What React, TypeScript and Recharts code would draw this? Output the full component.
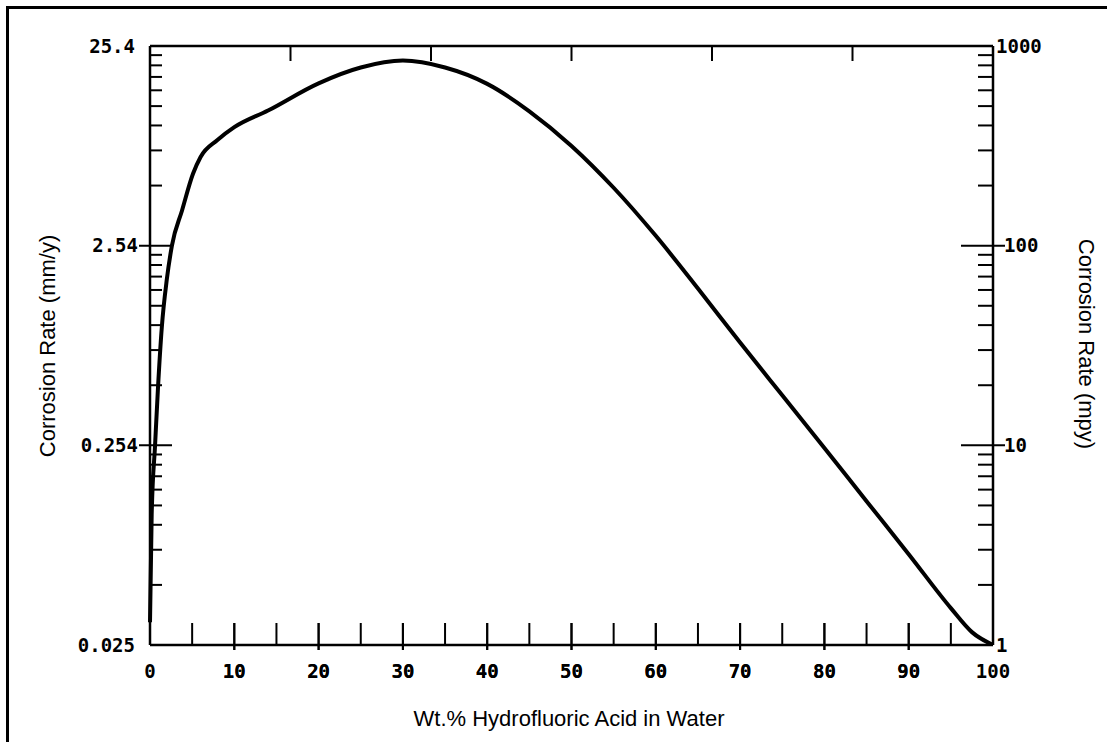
import { LineChart, Line, XAxis, YAxis } from 'recharts';

// Wt.% HF in water vs corrosion rate (mpy)
const wtPct = [0, 0.2, 0.6, 0.95, 1.4, 2.0, 2.6, 3.8, 5.1, 6.0, 8.0, 10, 14, 20, 25, 30, 35, 40, 45, 50, 55, 60, 65, 70, 75, 80, 85, 90, 95, 97.5, 100];
const mpy = [1.3, 4.5, 10, 19.5, 39, 68, 100, 150, 229, 278, 338, 392, 475, 650, 780, 845, 780, 646, 471, 316, 195, 112, 61, 32.7, 17.8, 9.7, 5.25, 2.85, 1.53, 1.16, 1.0];

const xLabels = [0, 10, 20, 30, 40, 50, 60, 70, 80, 90, 100];
const xMinorTicks = [5, 10, 15, 20, 25, 30, 35, 40, 45, 50, 55, 60, 65, 70, 75, 80, 85, 90, 95];
const mpyDecades = [1, 10, 100, 1000];
const mmLabels = ['0.025', '0.254', '2.54', '25.4'];
const mpyLabels = ['1', '10', '100', '1000'];
const minorSteps = [2, 3, 4, 5, 6, 7, 8, 9];

const data = wtPct.map((w, i) => ({ wt: w, rate: mpy[i] }));
const logTicks = [
  ...mpyDecades,
  ...mpyDecades.slice(0, -1).flatMap((d) => minorSteps.map((m) => d * m)),
];

const ink = '#000';
const tickFont = {
  fontFamily: '"DejaVu Sans Mono", monospace',
  fontWeight: 700,
  fontSize: 19,
  fill: ink,
};
const titleFont: React.CSSProperties = {
  position: 'absolute',
  fontFamily: '"Liberation Sans", Arial, sans-serif',
  fontSize: 22,
  color: ink,
  whiteSpace: 'nowrap',
};

const LeftTick = ({ x, y, payload }: any) => {
  const i = mpyDecades.indexOf(payload.value);
  if (i < 0) return <line x1={x} x2={x + 12} y1={y} y2={y} stroke={ink} strokeWidth={2} />;
  const inner = i > 0 && i < mpyDecades.length - 1;
  return (
    <g>
      {inner && <line x1={x - 11} x2={x + 22} y1={y} y2={y} stroke={ink} strokeWidth={2} />}
      <text x={x - (inner ? 12 : 15)} y={y} dy="0.35em" textAnchor="end" {...tickFont}>
        {mmLabels[i]}
      </text>
    </g>
  );
};

const RightTick = ({ x, y, payload }: any) => {
  const i = mpyDecades.indexOf(payload.value);
  if (i < 0) return <line x1={x - 15} x2={x} y1={y} y2={y} stroke={ink} strokeWidth={2} />;
  const inner = i > 0 && i < mpyDecades.length - 1;
  return (
    <g>
      {inner && <line x1={x - 32} x2={x + 12} y1={y} y2={y} stroke={ink} strokeWidth={2} />}
      <text x={x + (inner ? 11 : 3)} y={y} dy="0.35em" textAnchor="start" {...tickFont}>
        {mpyLabels[i]}
      </text>
    </g>
  );
};

const BottomTick = ({ x, y, payload }: any) => {
  const v = payload.value;
  const major = v % 10 === 0;
  return (
    <g>
      {v > 0 && v < 100 && (
        <line x1={x} x2={x} y1={y - 22} y2={y + (major ? 5 : 0)} stroke={ink} strokeWidth={2} />
      )}
      {major && (
        <text x={x} y={y + 26} dy="0.35em" textAnchor="middle" {...tickFont}>
          {v}
        </text>
      )}
    </g>
  );
};

const TopTick = ({ x, y, payload }: any) => {
  const v = payload.value;
  if (v <= 0 || v >= 100) return <g />;
  return <line x1={x} x2={x} y1={y} y2={y + 15} stroke={ink} strokeWidth={2} />;
};

const axisLine = { stroke: ink, strokeWidth: 2.5 };

export default function App() {
  return (
    <div style={{ position: 'fixed', left: 0, top: 0, width: 1107, height: 742, background: '#fff' }}>
      <div
        style={{
          position: 'absolute',
          left: 6,
          top: 6,
          right: 0,
          bottom: 0,
          borderLeft: '3px solid #000',
          borderTop: '3px solid #000',
        }}
      />
      <div style={{ position: 'absolute', left: 0, top: 0 }}>
        <LineChart width={1107} height={742} data={data} margin={{ top: 26, right: 54, bottom: 67, left: 90 }}>
          <XAxis
            xAxisId="bottom"
            dataKey="wt"
            type="number"
            domain={[0, 100]}
            ticks={[...xMinorTicks, ...xLabels]}
            interval={0}
            height={30}
            tickSize={0}
            tickMargin={0}
            tickLine={false}
            axisLine={axisLine}
            tick={<BottomTick />}
          />
          <XAxis
            xAxisId="top"
            orientation="top"
            type="number"
            domain={[0, 100]}
            allowDataOverflow
            ticks={xMinorTicks}
            interval={0}
            height={20}
            tickSize={0}
            tickMargin={0}
            tickLine={false}
            axisLine={axisLine}
            tick={<TopTick />}
          />
          <YAxis
            yAxisId="left"
            orientation="left"
            type="number"
            scale="log"
            domain={[1, 1000]}
            allowDataOverflow
            ticks={logTicks}
            interval={0}
            width={60}
            tickSize={0}
            tickMargin={0}
            tickLine={false}
            axisLine={axisLine}
            tick={<LeftTick />}
          />
          <YAxis
            yAxisId="right"
            orientation="right"
            type="number"
            scale="log"
            domain={[1, 1000]}
            allowDataOverflow
            ticks={logTicks}
            interval={0}
            width={60}
            tickSize={0}
            tickMargin={0}
            tickLine={false}
            axisLine={axisLine}
            tick={<RightTick />}
          />
          <Line
            xAxisId="bottom"
            yAxisId="right"
            dataKey="rate"
            type="monotone"
            stroke={ink}
            strokeWidth={4}
            dot={false}
            isAnimationActive={false}
          />
        </LineChart>
      </div>
      <div style={{ ...titleFont, left: 48, top: 346, transform: 'translate(-50%, -50%) rotate(-90deg)' }}>
        Corrosion Rate (mm/y)
      </div>
      <div style={{ ...titleFont, left: 1086, top: 344, transform: 'translate(-50%, -50%) rotate(90deg)' }}>
        Corrosion Rate (mpy)
      </div>
      <div style={{ ...titleFont, left: 569, top: 719, transform: 'translate(-50%, -50%)' }}>
        Wt.% Hydrofluoric Acid in Water
      </div>
    </div>
  );
}
